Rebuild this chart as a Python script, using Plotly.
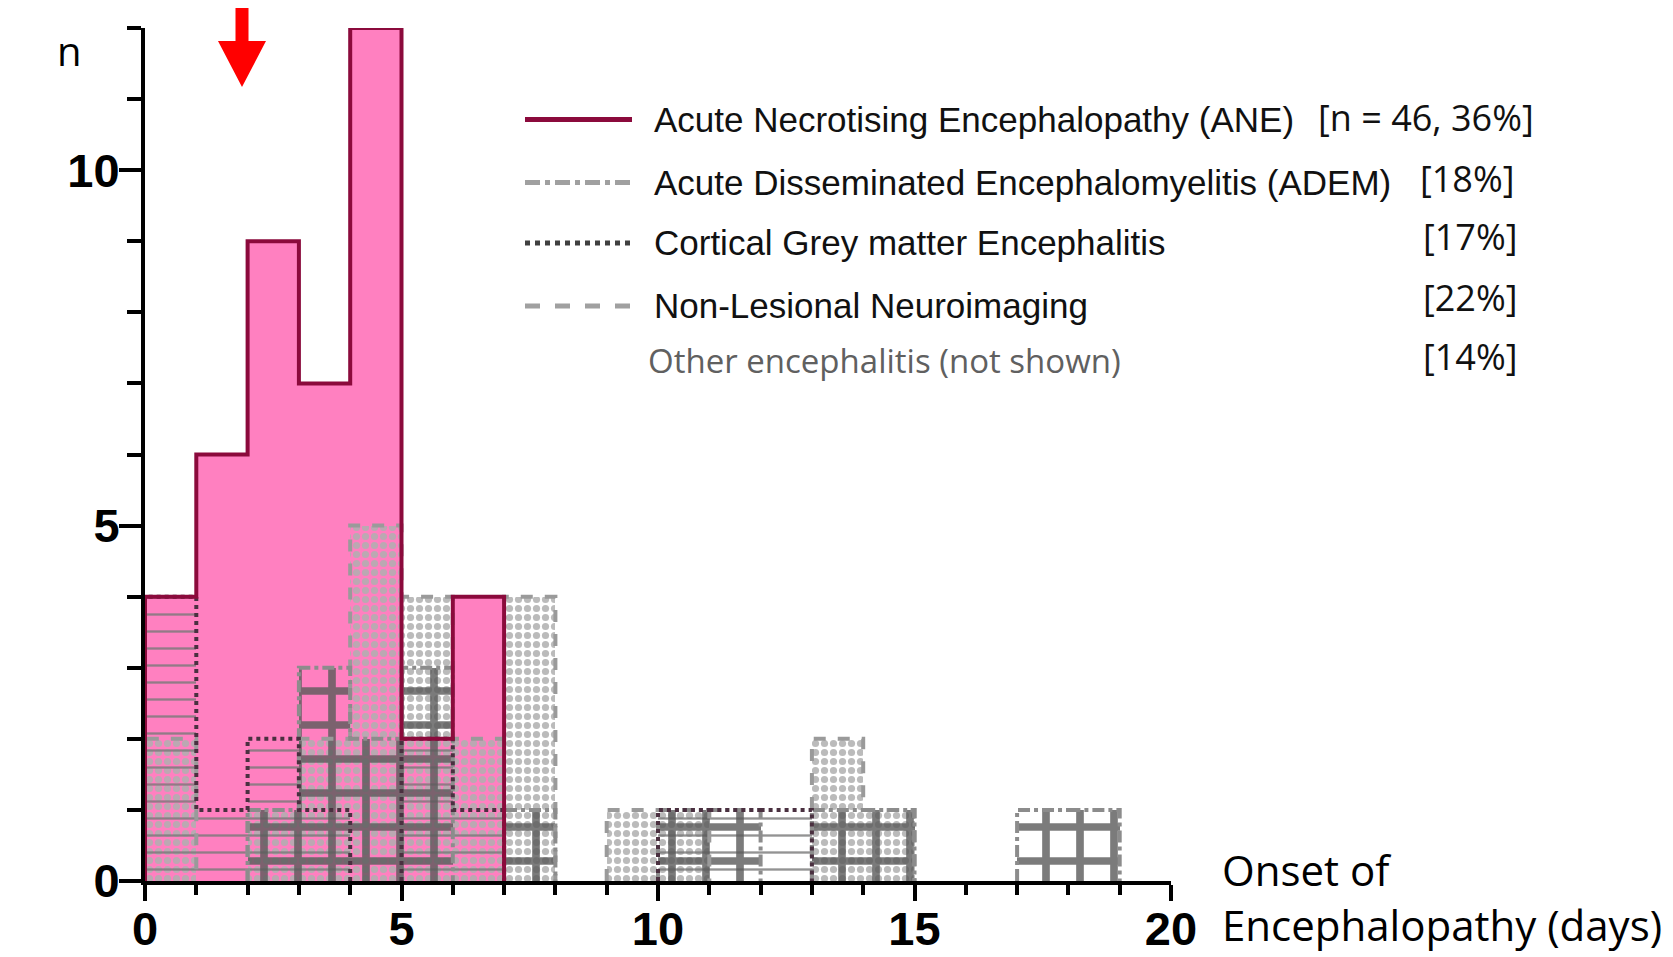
import plotly.graph_objects as go

# ---- data: counts per 1-day bin, bins [0,1], [1,2], ..., [19,20]
bin_edges = list(range(0, 21))
ane      = [4, 6, 9, 7, 12, 2, 4, 0, 0, 0, 0, 0, 0, 0, 0, 0, 0, 0, 0, 0]
adem     = [0, 0, 1, 3, 2, 3, 0, 1, 0, 0, 1, 1, 0, 1, 1, 0, 0, 1, 1, 0]
cortical = [4, 1, 2, 1, 0, 2, 1, 0, 0, 0, 1, 1, 1, 0, 0, 0, 0, 0, 0, 0]
nonles   = [2, 0, 1, 2, 5, 4, 2, 4, 0, 1, 1, 0, 0, 2, 1, 0, 0, 0, 0, 0]

legend_names = ["Acute Necrotising Encephalopathy (ANE)",
                "Acute Disseminated Encephalomyelitis (ADEM)",
                "Cortical Grey matter Encephalitis",
                "Non-Lesional Neuroimaging"]
legend_pcts = ["[n = 46, 36%]", "[18%]", "[17%]", "[22%]"]
other_name = "Other encephalitis (not shown)"
other_pct = "[14%]"
x_ticks = [0, 5, 10, 15, 20]
y_ticks = [0, 5, 10]

W, H = 1673, 957
L, R, T, B = 145, 1171, 28, 881   # plot area in page pixels (reference)
OFF = 8                            # page body offset


def px(x):
    return (x - L) / (R - L)


def py(y):
    return (B - y) / (B - T)


centers = [(bin_edges[i] + bin_edges[i + 1]) / 2 for i in range(len(bin_edges) - 1)]


def step_xy(vals):
    """Step outline for each contiguous run of non-zero bins."""
    xs, ys = [], []
    n = len(vals)
    i = 0
    while i < n:
        if vals[i] == 0:
            i += 1
            continue
        j = i
        while j < n and vals[j] != 0:
            j += 1
        xs += [bin_edges[i]] + bin_edges[i:j] + [bin_edges[j], None]
        ys += [0] + list(vals[i:j]) + [0, None]
        i = j
    return xs, ys


fig = go.Figure()

# ANE pink fill
fig.add_trace(go.Bar(x=centers, y=ane, width=1, marker=dict(color="#FF80C0", line=dict(width=0)),
                     showlegend=False, hoverinfo="skip"))
# Non-lesional: checker-like dots
fig.add_trace(go.Bar(x=centers, y=nonles, width=1,
                     marker=dict(color="rgba(0,0,0,0)", line=dict(width=0),
                                 pattern=dict(shape=".", fgcolor="rgba(175,175,175,0.85)",
                                              bgcolor="rgba(0,0,0,0)", size=9, solidity=0.5,
                                              fillmode="replace")),
                     showlegend=False, hoverinfo="skip"))
# Cortical: horizontal stripes
fig.add_trace(go.Bar(x=centers, y=cortical, width=1,
                     marker=dict(color="rgba(0,0,0,0)", line=dict(width=0),
                                 pattern=dict(shape="-", fgcolor="rgba(120,120,120,0.8)",
                                              bgcolor="rgba(0,0,0,0)", size=17, solidity=0.14,
                                              fillmode="replace")),
                     showlegend=False, hoverinfo="skip"))
# ADEM: grid
fig.add_trace(go.Bar(x=centers, y=adem, width=1,
                     marker=dict(color="rgba(0,0,0,0)", line=dict(width=0),
                                 pattern=dict(shape="+", fgcolor="rgba(90,90,90,0.8)",
                                              bgcolor="rgba(0,0,0,0)", size=34, solidity=0.4,
                                              fillmode="replace")),
                     showlegend=False, hoverinfo="skip"))

# outlines
outline_specs = [
    (nonles, "#9A9A9A", "dash"),
    (adem, "#8C8C8C", "dashdot"),
    (cortical, "#4A3040", "dot"),
    (ane, "#8B0A3C", "solid"),
]
for vals, col, dash in outline_specs:
    xs, ys = step_xy(vals)
    fig.add_trace(go.Scatter(x=xs, y=ys, mode="lines", connectgaps=False,
                             line=dict(shape="hv", color=col, width=4, dash=dash),
                             showlegend=False, hoverinfo="skip"))

fig.update_layout(
    width=W, height=H,
    margin=dict(l=L - OFF, r=W - (R - OFF), t=T - OFF, b=H - (B - OFF), autoexpand=False),
    paper_bgcolor="white", plot_bgcolor="white",
    barmode="overlay", bargap=0,
    showlegend=False,
)
tick_font = dict(family="Liberation Sans, Arial", size=47, color="black", weight="bold")
fig.update_xaxes(range=[0, 20], tickvals=x_ticks, ticks="outside", ticklen=16, tickwidth=4,
                 tickcolor="black", showline=True, linewidth=4, linecolor="black",
                 showgrid=False, zeroline=False, automargin=False, tickfont=tick_font,
                 ticklabelstandoff=-12,
                 minor=dict(dtick=1, ticks="outside", ticklen=10, tickwidth=4, tickcolor="black",
                            showgrid=False))
fig.update_yaxes(range=[0, 12], tickvals=y_ticks, ticks="outside", ticklen=22, tickwidth=4,
                 tickcolor="black", showline=True, linewidth=4, linecolor="black",
                 showgrid=False, zeroline=False, automargin=False, tickfont=tick_font,
                 ticklabelstandoff=-10,
                 minor=dict(dtick=1, ticks="outside", ticklen=14, tickwidth=4, tickcolor="black",
                            showgrid=False))

# legend samples
sample_y = [119.5, 182.5, 243, 306]
sample_styles = [("#8B0A3C", "solid"), ("#A0A0A0", "dashdot"), ("#404040", "dot"), ("#A0A0A0", "dash")]
for yy, (col, dash) in zip(sample_y, sample_styles):
    fig.add_shape(type="line", xref="paper", yref="paper", x0=px(525), x1=px(632), y0=py(yy), y1=py(yy),
                  line=dict(color=col, width=5, dash=dash))

text_y = [119.5, 182.5, 242, 305]
for yy, name in zip(text_y, legend_names):
    fig.add_annotation(xref="paper", yref="paper", x=px(652), y=py(yy), xanchor="left", yanchor="middle",
                       text=name, showarrow=False,
                       font=dict(family="Liberation Sans Narrow, Liberation Sans, Arial", size=35, color="#111111"))
pct_pos = [(1316, 117), (1418, 178), (1421, 237), (1421, 297)]
for (xx, yy), t in zip(pct_pos, legend_pcts):
    fig.add_annotation(xref="paper", yref="paper", x=px(xx), y=py(yy), xanchor="left", yanchor="middle",
                       text=t, showarrow=False,
                       font=dict(family="Open Sans", size=36, color="#111111"))
fig.add_annotation(xref="paper", yref="paper", x=px(646), y=py(360), xanchor="left", yanchor="middle",
                   text=other_name, showarrow=False, font=dict(family="Open Sans", size=33, color="#606060"))
fig.add_annotation(xref="paper", yref="paper", x=px(1421), y=py(356), xanchor="left", yanchor="middle",
                   text=other_pct, showarrow=False, font=dict(family="Open Sans", size=36, color="#111111"))

# axis titles
fig.add_annotation(xref="paper", yref="paper", x=px(55), y=py(50), xanchor="left", yanchor="middle",
                   text="n", showarrow=False, font=dict(family="Open Sans", size=40, color="black"))
fig.add_annotation(xref="paper", yref="paper", x=px(1220), y=py(869), xanchor="left", yanchor="middle",
                   text="Onset of", showarrow=False, font=dict(family="Open Sans", size=42, color="black"))
fig.add_annotation(xref="paper", yref="paper", x=px(1220), y=py(924), xanchor="left", yanchor="middle",
                   text="Encephalopathy (days)", showarrow=False, font=dict(family="Open Sans", size=42, color="black"))

# red arrow
pts = [(235.5, 0), (248.5, 0), (248.5, 41), (266, 41), (242, 87), (218, 41), (235.5, 41)]
path = "M " + " L ".join(f"{px(a):.5f},{py(b):.5f}" for a, b in pts) + " Z"
fig.add_shape(type="path", xref="paper", yref="paper", path=path, fillcolor="#FF0000",
              line=dict(width=0), layer="above")

fig.write_html("out.html")
